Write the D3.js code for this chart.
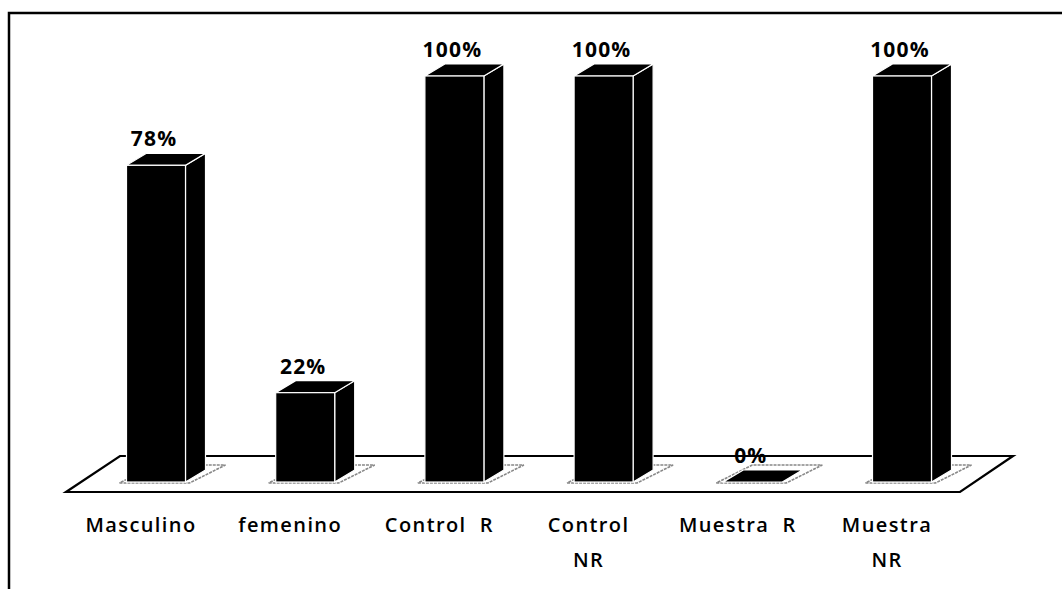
<!DOCTYPE html>
<html>
<head>
<meta charset="utf-8">
<script src="https://cdn.jsdelivr.net/npm/d3@7"></script>
<style>
  html, body { margin: 0; padding: 0; background: #fff; }
  svg { display: block; }
</style>
</head>
<body>
<svg id="chart" width="1062" height="589"></svg>
<script>
// Categories (label lines) and percentages per bar
const categories = ["Masculino", "femenino", "Control R", "Control NR", "Muestra R", "Muestra NR"];
const categoryLines = [["Masculino"], ["femenino"], ["Control  R"], ["Control", "NR"], ["Muestra  R"], ["Muestra", "NR"]];
const values = [0.78, 0.22, 1.00, 1.00, 0.00, 1.00];
const valueLabels = ["78%", "22%", "100%", "100%", "0%", "100%"];

const svg = d3.select("#chart");
const W = 1062, H = 589;

// Scales: bar centres along x, value to front-face top along y
const x = d3.scalePoint().domain(categories).range([156, 902]);
const y = d3.scaleLinear().domain([0, 1]).range([482, 76]);

const barW = 59;           // front face width
const dx = 20, dy = -12;   // bar depth offset

// Chart frame (left and top edges)
svg.append("path")
  .attr("d", `M9,${H} L9,13 L${W},13`)
  .attr("fill", "none")
  .attr("stroke", "#000")
  .attr("stroke-width", 2.5);

// Floor plane
const floor = [[66, 492], [960, 492], [1013, 456], [120, 456]];
svg.append("polygon")
  .attr("points", floor.map(p => p.join(",")).join(" "))
  .attr("fill", "#fff")
  .attr("stroke", "#000")
  .attr("stroke-width", 2.2)
  .attr("stroke-linejoin", "miter");

// Footprint shadows on the floor
const base = y(0);
svg.append("g").selectAll("polygon")
  .data(categories)
  .join("polygon")
  .attr("points", d => {
    const x0 = x(d) - barW / 2 - 7, x1 = x(d) + barW / 2 + 4;
    return [[x0, base + 1], [x1, base + 1], [x1 + 36, base - 17], [x0 + 36, base - 17]]
      .map(p => p.join(",")).join(" ");
  })
  .attr("fill", "#fff")
  .attr("stroke", "#888")
  .attr("stroke-width", 1.6)
  .attr("stroke-dasharray", "3,1");

// 3D bars: side, top, front
const bars = svg.append("g").selectAll("g")
  .data(categories.map((c, i) => ({ c, v: values[i] })))
  .join("g");

bars.append("polygon") // side face
  .attr("points", d => {
    const x1 = x(d.c) + barW / 2, yt = y(d.v);
    return [[x1, base], [x1 + dx, base + dy], [x1 + dx, yt + dy], [x1, yt]]
      .map(p => p.join(",")).join(" ");
  })
  .attr("fill", "#000").attr("stroke", "#fff").attr("stroke-width", 1.2);

bars.append("polygon") // top face
  .attr("points", d => {
    const x0 = x(d.c) - barW / 2, x1 = x(d.c) + barW / 2, yt = y(d.v);
    return [[x0, yt], [x1, yt], [x1 + dx, yt + dy], [x0 + dx, yt + dy]]
      .map(p => p.join(",")).join(" ");
  })
  .attr("fill", "#000").attr("stroke", "#fff").attr("stroke-width", 1.2);

bars.append("rect") // front face
  .attr("x", d => x(d.c) - barW / 2)
  .attr("y", d => y(d.v))
  .attr("width", barW)
  .attr("height", d => base - y(d.v))
  .attr("fill", "#000").attr("stroke", "#fff").attr("stroke-width", 1.2);

// Value labels
svg.append("g").selectAll("text")
  .data(categories.map((c, i) => ({ c, v: values[i], t: valueLabels[i] })))
  .join("text")
  .attr("x", d => x(d.c) - 2)
  .attr("y", d => y(d.v) - 19)
  .attr("text-anchor", "middle")
  .attr("font-family", "'Open Sans', sans-serif")
  .attr("font-weight", 700)
  .attr("font-size", 21)
  .attr("letter-spacing", 1.2)
  .attr("fill", "#000")
  .text(d => d.t);

// Category labels
const cat = svg.append("g").selectAll("text")
  .data(categories.map((c, i) => ({ c, lines: categoryLines[i] })))
  .join("text")
  .attr("y", 532)
  .attr("text-anchor", "middle")
  .attr("font-family", "'Open Sans', sans-serif")
  .attr("font-weight", 600)
  .attr("font-size", 20)
  .attr("letter-spacing", 1.4)
  .style("white-space", "pre")
  .attr("fill", "#000");
cat.selectAll("tspan")
  .data(d => d.lines.map((l, j) => ({ l, j, cx: x(d.c) - 15 })))
  .join("tspan")
  .attr("x", d => d.cx)
  .attr("dy", d => d.j === 0 ? 0 : 35)
  .text(d => d.l);
</script>
</body>
</html>
